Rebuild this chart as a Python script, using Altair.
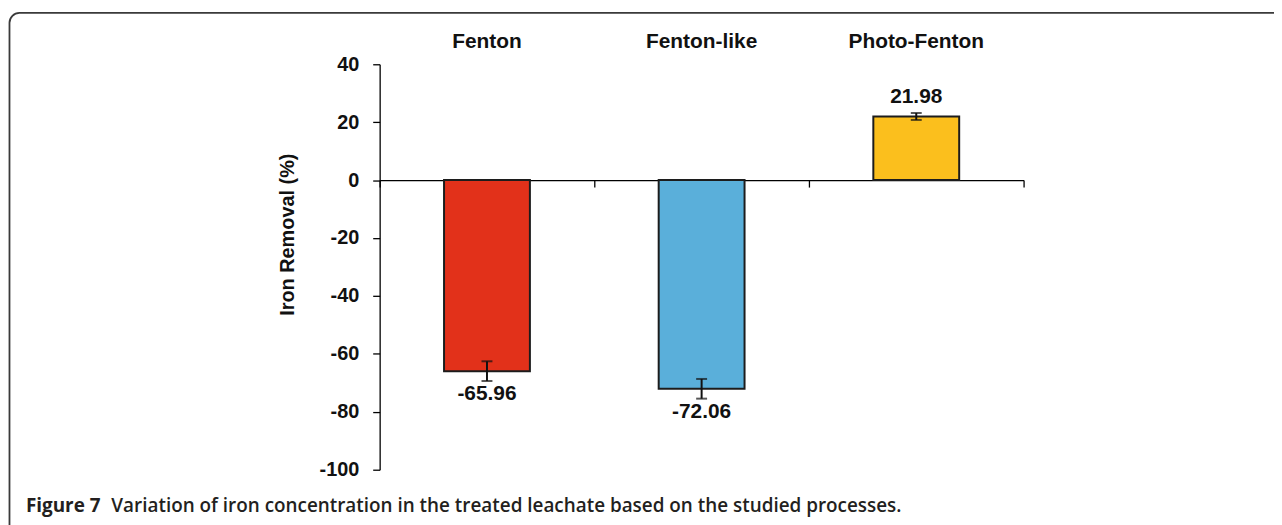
import altair as alt
import pandas as pd

categories = ["Fenton", "Fenton-like", "Photo-Fenton"]
values = [-65.96, -72.06, 21.98]
errors = [3.4, 3.4, 1.2]
value_labels = ["-65.96", "-72.06", "21.98"]
bar_colors = ["#E2311A", "#5AAFDA", "#FBBF1D"]
y_ticks = [40, 20, 0, -20, -40, -60, -80, -100]
y_domain = [-100, 40]
y_title = "Iron Removal (%)"
caption_bold = "Figure 7"
caption_rest = "Variation of iron concentration in the treated leachate based on the studied processes."

df = pd.DataFrame({"cat": categories, "value": values, "err": errors, "label": value_labels})
df["lo"] = df["value"] - df["err"]
df["hi"] = df["value"] + df["err"]

W, H = 648, 408
FONT = "Liberation Sans, Arial, Helvetica, sans-serif"
CAPFONT = "Open Sans, Liberation Sans, sans-serif"
INK = "#111111"
zero_offset = -H * (0 - y_domain[0]) / (y_domain[1] - y_domain[0])

xscale = alt.Scale(domain=categories, paddingInner=0, paddingOuter=0)
yscale = alt.Scale(domain=y_domain, nice=False, zero=False)

base = alt.Chart(df)
X_NOAXIS = alt.X("cat:N", scale=xscale, sort=categories, axis=None)

bars = base.mark_bar(width=alt.RelativeBandSize(0.4), stroke="#1c1c1c", strokeWidth=2).encode(
    x=alt.X("cat:N", scale=xscale, sort=categories, title=None,
            axis=alt.Axis(orient="top", domain=False, ticks=False, tickSize=0,
                          labelFont=FONT, labelFontSize=21, labelFontWeight="bold",
                          labelColor=INK, labelPadding=17, labelBaseline="alphabetic",
                          labelAngle=0)),
    y=alt.Y("value:Q", scale=yscale, title=y_title,
            axis=alt.Axis(values=y_ticks, grid=False, domainColor="#000", domainWidth=1.3,
                          tickColor="#000", tickWidth=1.3, tickSize=7, labelPadding=14,
                          labelExpr="'' + datum.value",
                          labelFont=FONT, labelFontSize=20, labelFontWeight="bold",
                          labelColor=INK, titleFont=FONT, titleFontSize=20,
                          titleFontWeight="bold", titleColor=INK, titleX=-87, titleY=171,
                          titleAngle=270, titleBaseline="alphabetic", titleAlign="center")),
    color=alt.Color("cat:N", scale=alt.Scale(domain=categories, range=bar_colors), legend=None),
)

err_rule = base.mark_rule(color=INK, strokeWidth=2).encode(
    x=X_NOAXIS,
    y=alt.Y("lo:Q", scale=yscale, axis=None),
    y2="hi:Q",
)
err_lo = base.mark_tick(color=INK, orient="horizontal", size=11, thickness=2).encode(
    x=X_NOAXIS,
    y=alt.Y("lo:Q", scale=yscale, axis=None),
)
err_hi = base.mark_tick(color=INK, orient="horizontal", size=11, thickness=2).encode(
    x=X_NOAXIS,
    y=alt.Y("hi:Q", scale=yscale, axis=None),
)

neg = base.transform_filter("datum.value < 0").mark_text(
    font=FONT, fontSize=21, fontWeight="bold", color=INK, baseline="alphabetic", dy=29
).encode(
    x=alt.X("cat:N", scale=xscale, sort=categories, title=None,
            axis=alt.Axis(orient="bottom", offset=zero_offset, labels=False, domain=True,
                          domainColor="#000", domainWidth=1.3, ticks=True, tickBand="extent",
                          tickSize=7, tickColor="#000", tickWidth=1.3, grid=False)),
    y=alt.Y("value:Q", scale=yscale, axis=None),
    text="label:N",
)

pos = base.transform_filter("datum.value >= 0").mark_text(
    font=FONT, fontSize=21, fontWeight="bold", color=INK, baseline="alphabetic", dy=-14
).encode(
    x=X_NOAXIS,
    y=alt.Y("value:Q", scale=yscale, axis=None),
    text="label:N",
)

one = alt.Data(values=[{"k": 1}])

frame = alt.Chart(one).mark_rect(filled=False, stroke="#3a3a3a", strokeWidth=1.8, cornerRadius=10).encode(
    x=alt.value(-372.5), x2=alt.value(950), y=alt.value(-51.7), y2=alt.value(520)
)

cap1 = alt.Chart(one).mark_text(
    align="left", baseline="alphabetic", font=CAPFONT, fontSize=19, fontWeight="bold", color="#231f20"
).encode(x=alt.value(-356), y=alt.value(451), text=alt.value(caption_bold))

cap2 = alt.Chart(one).mark_text(
    align="left", baseline="alphabetic", font=CAPFONT, fontSize=19, fontWeight=600, color="#231f20"
).encode(x=alt.value(-270), y=alt.value(451), text=alt.value(caption_rest))

chart = alt.layer(frame, bars, err_rule, err_lo, err_hi, neg, pos, cap1, cap2).resolve_axis(
    x="independent", y="independent"
).properties(
    width=W, height=H,
    autosize=alt.AutoSizeParams(type="none"),
    padding={"left": 374, "top": 55, "right": 252, "bottom": 54},
    background="white",
).configure_view(stroke=None)

chart.save("out.html", embed_options={"renderer": "svg", "actions": False})
